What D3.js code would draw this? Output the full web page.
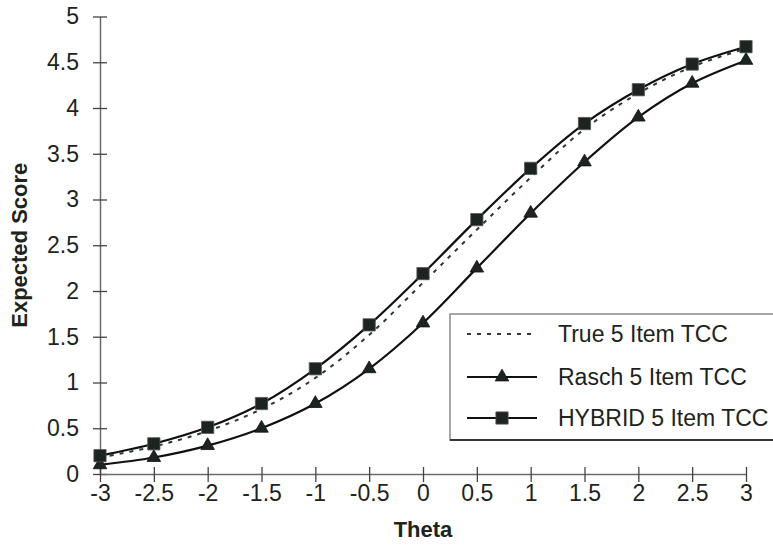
<!DOCTYPE html>
<html>
<head>
<meta charset="utf-8">
<script src="https://cdn.jsdelivr.net/npm/d3@7"></script>
<style>
  body { margin: 0; background: #fff; }
  text { font-family: "Liberation Sans", Arial, sans-serif; fill: #1c2420; }
</style>
</head>
<body>
<svg id="tcc_svg"></svg>
<script>
// theta values and the three test characteristic curves
var theta = [-3, -2.5, -2, -1.5, -1, -0.5, 0, 0.5, 1, 1.5, 2, 2.5, 3];
var true_tcc   = [0.18, 0.30, 0.47, 0.71, 1.05, 1.52, 2.09, 2.67, 3.24, 3.77, 4.16, 4.45, 4.65];
var rasch_tcc  = [0.10, 0.18, 0.31, 0.50, 0.77, 1.15, 1.65, 2.25, 2.85, 3.41, 3.90, 4.27, 4.52];
var hybrid_tcc = [0.20, 0.33, 0.51, 0.77, 1.15, 1.63, 2.19, 2.78, 3.34, 3.83, 4.20, 4.48, 4.67];
var x_ticks = [-3, -2.5, -2, -1.5, -1, -0.5, 0, 0.5, 1, 1.5, 2, 2.5, 3];
var y_ticks = [0, 0.5, 1, 1.5, 2, 2.5, 3, 3.5, 4, 4.5, 5];
var legend_labels = ['True 5 Item TCC', 'Rasch 5 Item TCC', 'HYBRID 5 Item TCC'];

var tcc_width = 773, tcc_height = 548;
var ink = '#1c2420';

var tcc_scaleX = d3.scaleLinear()
  .domain([-3, 3])
  .range([100, 746]);
var tcc_scaleY = d3.scaleLinear()
  .domain([0, 5])
  .range([474, 16.5]);

function pts(vals) {
  return theta.map(function(t, i) { return {x: t, y: vals[i]}; });
}
// plain hyphen for negatives, like the original
function fmt(d) { return String(d); }

var lineGen = d3.line()
  .x(function(d) { return tcc_scaleX(d.x); })
  .y(function(d) { return tcc_scaleY(d.y); })
  .curve(d3.curveCatmullRom.alpha(0.5));

var svg = d3.select('#tcc_svg')
  .attr('width', tcc_width)
  .attr('height', tcc_height);

// y axis
var yAxis = d3.axisLeft(tcc_scaleY)
  .tickValues(y_ticks)
  .tickFormat(fmt)
  .tickSizeOuter(0)
  .tickSizeInner(7)
  .tickPadding(14);
var gy = svg.append('g')
  .attr('transform', 'translate(' + tcc_scaleX(-3) + ',0)')
  .call(yAxis);
gy.select('.domain').attr('stroke', '#6b6b6b').attr('stroke-width', 1.5);
gy.selectAll('.tick line').attr('x1', -7).attr('x2', 7).attr('stroke', '#444').attr('stroke-width', 1.3);
gy.selectAll('.tick text')
  .attr('font-size', '23px')
  .attr('font-family', '"Liberation Sans", Arial, sans-serif')
  .attr('fill', ink);

// x axis
var xAxis = d3.axisBottom(tcc_scaleX)
  .tickValues(x_ticks)
  .tickFormat(fmt)
  .tickSizeOuter(0)
  .tickSizeInner(8);
var gx = svg.append('g')
  .attr('transform', 'translate(0,' + tcc_scaleY(0) + ')')
  .call(xAxis);
gx.select('.domain').attr('stroke', '#6b6b6b').attr('stroke-width', 1.5);
gx.selectAll('.tick line').attr('y1', -7).attr('y2', 8).attr('stroke', '#444').attr('stroke-width', 1.3);
gx.selectAll('.tick text')
  .attr('y', 27)
  .attr('dy', null)
  .attr('font-size', '23px')
  .attr('font-family', '"Liberation Sans", Arial, sans-serif')
  .attr('fill', ink);

// axis titles
svg.append('text')
  .text('Theta')
  .attr('x', (tcc_scaleX(-3) + tcc_scaleX(3)) / 2)
  .attr('y', 537)
  .attr('text-anchor', 'middle')
  .attr('font-size', '22px')
  .attr('font-weight', 'bold');
svg.append('text')
  .text('Expected Score')
  .attr('text-anchor', 'middle')
  .attr('font-size', '22px')
  .attr('font-weight', 'bold')
  .attr('transform', 'translate(27,' + (tcc_scaleY(2.5)) + ') rotate(-90)');

// curves
svg.append('path')
  .attr('d', lineGen(pts(true_tcc)))
  .attr('fill', 'none')
  .attr('stroke', '#2a3a35')
  .attr('stroke-width', 2)
  .attr('stroke-dasharray', '4,6');
svg.append('path')
  .attr('d', lineGen(pts(rasch_tcc)))
  .attr('fill', 'none')
  .attr('stroke', '#111')
  .attr('stroke-width', 2.2);
svg.append('path')
  .attr('d', lineGen(pts(hybrid_tcc)))
  .attr('fill', 'none')
  .attr('stroke', '#111')
  .attr('stroke-width', 2.2);

var triSym = d3.symbol().type(d3.symbolTriangle).size(80);
var sqSym = d3.symbol().type(d3.symbolSquare).size(150);

svg.append('g').selectAll('path')
  .data(pts(rasch_tcc))
  .enter().append('path')
  .attr('d', triSym)
  .attr('transform', function(d) { return 'translate(' + tcc_scaleX(d.x) + ',' + tcc_scaleY(d.y) + ')'; })
  .attr('fill', ink)
  .attr('stroke', '#111')
  .attr('stroke-width', 0.8);

svg.append('g').selectAll('path')
  .data(pts(hybrid_tcc))
  .enter().append('path')
  .attr('d', sqSym)
  .attr('transform', function(d) { return 'translate(' + tcc_scaleX(d.x) + ',' + tcc_scaleY(d.y) + ')'; })
  .attr('fill', ink)
  .attr('stroke', '#555')
  .attr('stroke-width', 0.8);

// legend
var legend = svg.append('g').attr('transform', 'translate(450,314)');
legend.append('rect')
  .attr('width', 400)
  .attr('height', 126)
  .attr('fill', '#fff')
  .attr('stroke', '#8a8a8a')
  .attr('stroke-width', 1.5);
legend.append('line')
  .attr('x1', 0).attr('x2', 400)
  .attr('y1', 126).attr('y2', 126)
  .attr('stroke', '#111')
  .attr('stroke-width', 1.5);

var rowY = [20, 63, 104];
legend_labels.forEach(function(lab, i) {
  var row = legend.append('g').attr('transform', 'translate(0,' + rowY[i] + ')');
  var ln = row.append('line')
    .attr('x1', 17).attr('x2', 87)
    .attr('y1', 0).attr('y2', 0)
    .attr('stroke', i === 0 ? '#2a3a35' : '#111')
    .attr('stroke-width', 2);
  if (i === 0) ln.attr('stroke-dasharray', '4,6');
  if (i === 1) {
    row.append('path').attr('d', triSym).attr('transform', 'translate(52,0)')
      .attr('fill', ink).attr('stroke', '#111').attr('stroke-width', 0.8);
  }
  if (i === 2) {
    row.append('path').attr('d', sqSym).attr('transform', 'translate(52,0)')
      .attr('fill', ink).attr('stroke', '#555').attr('stroke-width', 0.8);
  }
  row.append('text')
    .text(lab)
    .attr('x', 108)
    .attr('dy', '0.36em')
    .attr('font-size', '23px');
});
</script>
</body>
</html>
